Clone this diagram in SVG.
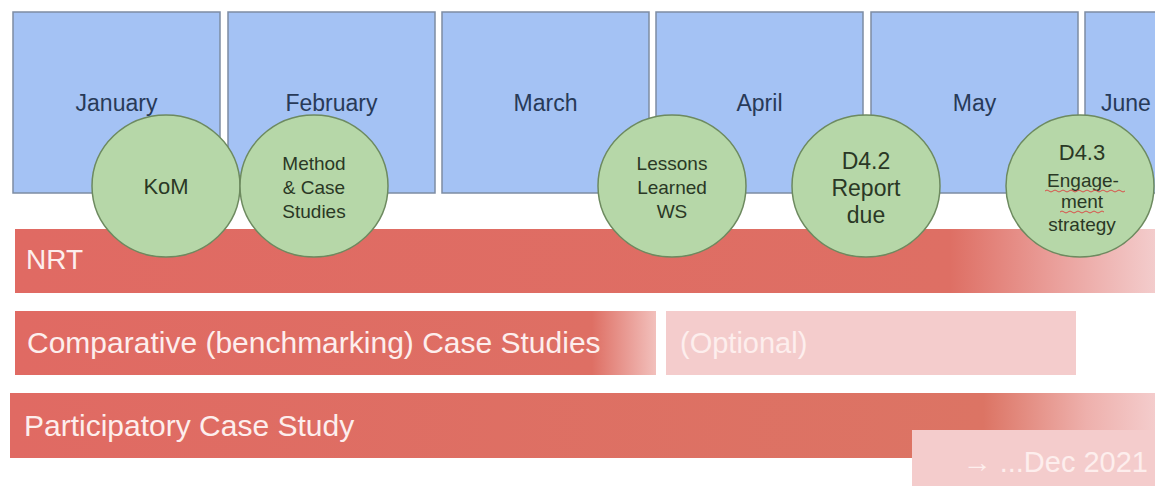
<svg xmlns="http://www.w3.org/2000/svg" width="1155" height="486" viewBox="0 0 1155 486">
  <defs>
    <style>
      .month { fill: #a4c2f4; stroke: #7d8ca3; stroke-width: 1.5; }
      .mlabel { font-family: "Liberation Sans", Arial, sans-serif; font-size: 23px; fill: #283a58; text-anchor: middle; }
      .ms { fill: #b6d7a8; stroke: #6d8a5f; stroke-width: 1.5; }
      .mstext { font-family: "Liberation Sans", Arial, sans-serif; fill: #2a3825; text-anchor: middle; }
      .bartext { font-family: "Liberation Sans", Arial, sans-serif; fill: #fdeeed; }
      .pale { fill: #f4cccc; }
      .squig { fill: none; stroke: #d9504a; stroke-width: 1; }
    </style>
    <linearGradient id="gNRT" gradientUnits="userSpaceOnUse" x1="15" y1="0" x2="1155" y2="0">
      <stop offset="0" stop-color="#e06a63"/>
      <stop offset="0.82" stop-color="#de6f64"/>
      <stop offset="0.92" stop-color="#eba39f"/>
      <stop offset="1" stop-color="#f3cccc"/>
    </linearGradient>
    <linearGradient id="gCmp" gradientUnits="userSpaceOnUse" x1="15" y1="0" x2="656" y2="0">
      <stop offset="0" stop-color="#e06a63"/>
      <stop offset="0.9" stop-color="#de6f64"/>
      <stop offset="1" stop-color="#f2c0bc"/>
    </linearGradient>
    <linearGradient id="gPart" gradientUnits="userSpaceOnUse" x1="10" y1="0" x2="1155" y2="0">
      <stop offset="0" stop-color="#e06a63"/>
      <stop offset="0.85" stop-color="#dc7464"/>
      <stop offset="0.94" stop-color="#eeb0ac"/>
      <stop offset="1" stop-color="#f4cccc"/>
    </linearGradient>
  </defs>
  <rect x="0" y="0" width="1155" height="486" fill="#ffffff"/>

  <g id="months">
    <g id="m-jan"><rect class="month" x="13" y="12" width="207" height="181"/><text class="mlabel" x="116.5" y="111">January</text></g>
    <g id="m-feb"><rect class="month" x="228" y="12" width="207" height="181"/><text class="mlabel" x="331.5" y="111">February</text></g>
    <g id="m-mar"><rect class="month" x="442" y="12" width="207" height="181"/><text class="mlabel" x="545.5" y="111">March</text></g>
    <g id="m-apr"><rect class="month" x="656" y="12" width="207" height="181"/><text class="mlabel" x="759.5" y="111">April</text></g>
    <g id="m-may"><rect class="month" x="871" y="12" width="207" height="181"/><text class="mlabel" x="974.5" y="111">May</text></g>
    <g id="m-jun"><rect class="month" x="1085" y="12" width="207" height="181"/><text class="mlabel" x="1101" y="111" style="text-anchor:start">June</text></g>
  </g>

  <g id="bars">
    <g id="bar-nrt"><rect x="15" y="229" width="1140" height="64" fill="url(#gNRT)"/><text class="bartext" x="26" y="269" font-size="28">NRT</text></g>
    <g id="bar-comparative"><rect x="15" y="311" width="641" height="64" fill="url(#gCmp)"/><text class="bartext" x="27" y="353" font-size="30">Comparative (benchmarking) Case Studies</text></g>
    <g id="bar-optional"><rect class="pale" x="666" y="311" width="410" height="64"/><text class="bartext" x="680" y="353" font-size="29" fill="#fdf3f3">(Optional)</text></g>
    <g id="bar-participatory"><rect x="10" y="393" width="1145" height="65" fill="url(#gPart)"/><text class="bartext" x="24" y="436" font-size="30">Participatory Case Study</text></g>
    <g id="bar-dec"><rect class="pale" x="912" y="430" width="243" height="56"/><text class="bartext" x="1148" y="472" font-size="29" text-anchor="end" fill="#fdf3f3">→ ...Dec 2021</text></g>
  </g>

  <g id="milestones">
    <g id="ms-kom"><ellipse class="ms" cx="166" cy="186" rx="74" ry="71"/><text class="mstext" x="166" y="194" font-size="22">KoM</text></g>
    <g id="ms-method"><ellipse class="ms" cx="314" cy="186" rx="74" ry="71"/>
      <text class="mstext" font-size="19"><tspan x="314" y="170">Method</tspan><tspan x="314" y="194">&amp; Case</tspan><tspan x="314" y="218">Studies</tspan></text></g>
    <g id="ms-lessons"><ellipse class="ms" cx="672" cy="186" rx="74" ry="71"/>
      <text class="mstext" font-size="19"><tspan x="672" y="170">Lessons</tspan><tspan x="672" y="194">Learned</tspan><tspan x="672" y="218">WS</tspan></text></g>
    <g id="ms-d42"><ellipse class="ms" cx="866" cy="186" rx="74" ry="71"/>
      <text class="mstext" font-size="23"><tspan x="866" y="169">D4.2</tspan><tspan x="866" y="196">Report</tspan><tspan x="866" y="223">due</tspan></text></g>
    <g id="ms-d43"><ellipse class="ms" cx="1080" cy="186" rx="74" ry="71"/>
      <text class="mstext"><tspan x="1082" y="160" font-size="22">D4.3</tspan><tspan x="1083" y="187" font-size="19">Engage-</tspan><tspan x="1082" y="208" font-size="19">ment</tspan><tspan x="1082" y="231" font-size="19">strategy</tspan></text>
      <path class="squig" d="M1045 191 q2 -2 4 0 t4 0 t4 0 t4 0 t4 0 t4 0 t4 0 t4 0 t4 0 t4 0 t4 0 t4 0 t4 0 t4 0 t4 0 t4 0 t4 0 t4 0 t4 0 t4 0"/>
      <path class="squig" d="M1060 212 q2 -2 4 0 t4 0 t4 0 t4 0 t4 0 t4 0 t4 0 t4 0 t4 0 t4 0 t4 0"/>
    </g>
  </g>
  <g id="connectors"/>
</svg>
